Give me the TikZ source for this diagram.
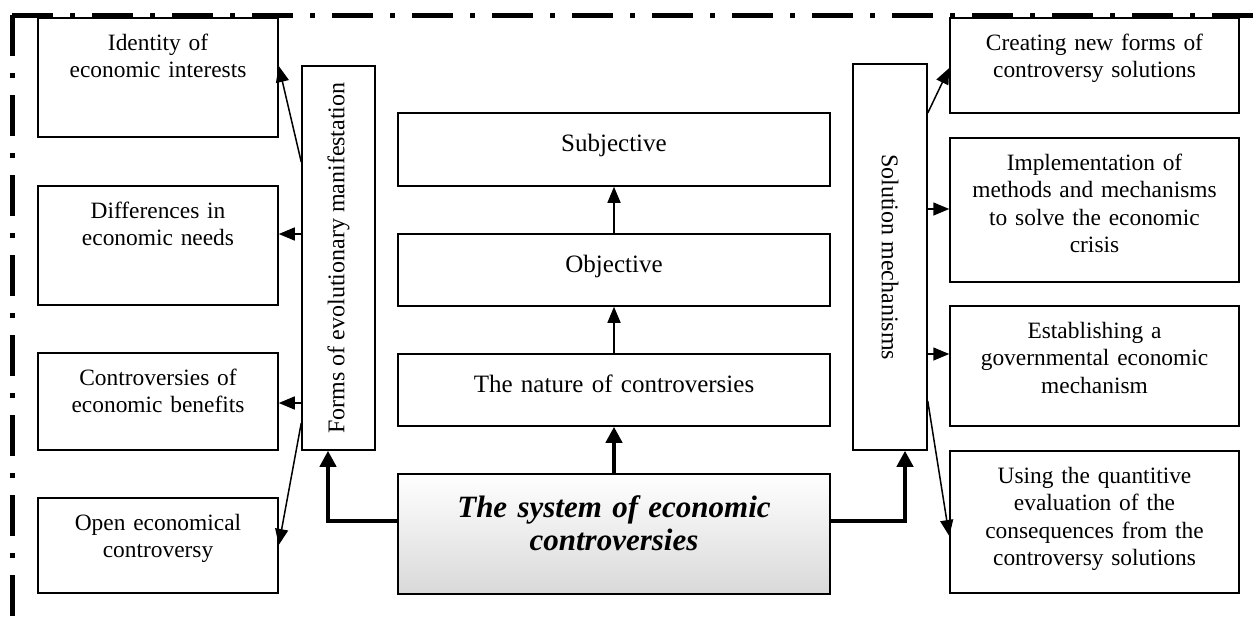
\documentclass[tikz,border=0pt]{standalone}
\usepackage{fontspec}
\setmainfont{Liberation Serif}
\usetikzlibrary{arrows.meta}

\begin{document}
\begin{tikzpicture}[x=1pt, y=-1pt,
    every node/.style={font=\fontsize{23.4}{27.5}\selectfont},
    box/.style={draw, line width=1.5pt, align=center, inner sep=0pt, text height=32pt},
    lbox/.style={box, text width=240pt},
    rbox/.style={box, text width=289pt},
    cbox/.style={box, text width=432pt, text height=38pt, font=\fontsize{25}{30}\selectfont},
    vbox/.style={draw, line width=1.5pt, inner sep=0pt, font=\fontsize{24}{28}\selectfont},
    arr/.style={-{Triangle[length=16pt,width=13pt]}, line width=1.5pt},
    bigarr/.style={-{Triangle[length=16pt,width=16pt]}, line width=4.5pt},
    frame/.style={line width=5pt, dash pattern=on 41pt off 17pt on 5pt off 17pt}]
  \useasboundingbox (0,0) rectangle (1258,616);
  \draw[frame] (12,15) -- (1258,15);
  \draw[frame] (12,15) -- (12,616);

  \node[lbox, text depth=87pt] (ident) at (158,77.5) {Identity of\\economic interests};
  \node[lbox, text depth=87pt] (needs) at (158,245.5) {Differences in\\economic needs};
  \node[lbox, text depth=65pt] (benefits) at (158,401.5) {Controversies of\\economic benefits};
  \node[lbox, text depth=63pt] (open) at (158,545.5) {Open economical\\controversy};
  \node[vbox, minimum width=73pt, minimum height=384pt] (forms) at (338.5,258)
    {\rotatebox{90}{Forms of evolutionary manifestation}};

  \node[cbox, text depth=35pt] (subj) at (614,149.5) {Subjective};
  \node[cbox, text depth=34pt] (obj) at (614,270) {Objective};
  \node[cbox, text depth=34pt] (nature) at (614,390) {The nature of controversies};
  \node[box, text width=432pt, text height=43pt, text depth=77pt,
    top color=white, bottom color=black!15,
    font=\fontsize{31}{33}\selectfont\bfseries\itshape] (system) at (614,534)
    {The system of economic\\controversies};

  \node[vbox, minimum width=74pt, minimum height=386pt] (solution) at (890,257)
    {\rotatebox{-90}{Solution mechanisms}};
  \node[rbox, text depth=63pt] (newforms) at (1094.5,65.5) {Creating new forms of\\controversy solutions};
  \node[rbox, text depth=112pt] (methods) at (1094.5,210) {Implementation of\\methods and mechanisms\\to solve the economic\\crisis};
  \node[rbox, text depth=88pt] (govmech) at (1094.5,366) {Establishing a\\governmental economic\\mechanism};
  \node[rbox, text depth=110pt] (quant) at (1094.5,522) {Using the quantitive\\evaluation of the\\consequences from the\\controversy solutions};

  \draw[arr] (forms.west |- 0,162) -- (ident.east |- 0,66);
  \draw[arr] (forms.west |- 0,234) -- (needs.east |- 0,234);
  \draw[arr] (forms.west |- 0,403) -- (benefits.east |- 0,403);
  \draw[arr] (forms.west |- 0,423) -- (open.east |- 0,545);

  \draw[arr] (nature) -- (obj);
  \draw[arr] (obj) -- (subj);
  \draw[bigarr] (system) -- (nature);
  \draw[bigarr] (system.west |- 0,521) -| (forms.south -| 328,0);
  \draw[bigarr] (system.east |- 0,521) -| (solution.south -| 905,0);

  \draw[arr] (solution.east |- 0,113) -- (newforms.west |- 0,68);
  \draw[arr] (solution.east |- 0,209) -- (methods.west |- 0,209);
  \draw[arr] (solution.east |- 0,354) -- (govmech.west |- 0,354);
  \draw[arr] (solution.east |- 0,401) -- (quant.west |- 0,536);
\end{tikzpicture}
\end{document}
